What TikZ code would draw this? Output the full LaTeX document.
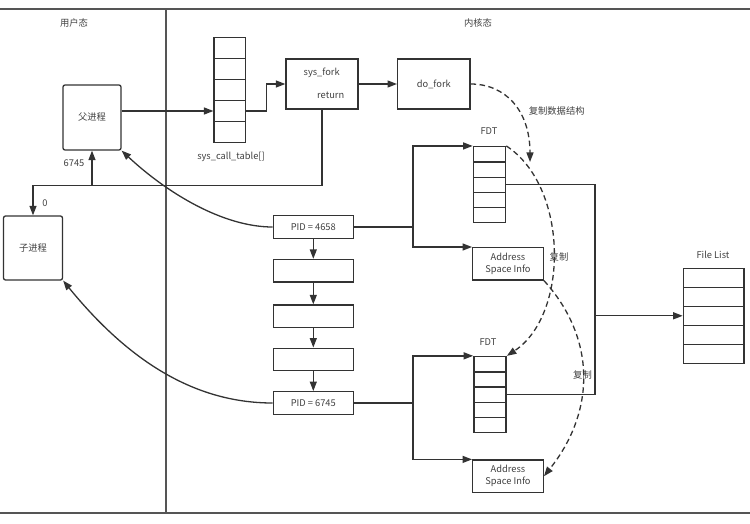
\documentclass[tikz,border=0pt]{standalone}
\usepackage{fontspec}
\setmainfont{Noto Sans CJK SC}
\usepackage{tikz}
\usepackage{xcolor}
\definecolor{figLine}{HTML}{333333}
\definecolor{figText}{HTML}{404040}
\definecolor{figFrame}{HTML}{555555}
\usetikzlibrary{matrix,arrows.meta}

\tikzset{
  panelline/.style={draw=figFrame, line width=1.6pt},
  wire/.style={draw=figLine, line width=1.3pt},
  link/.style={wire, ->},
  copyarc/.style={wire, ->, dash pattern=on 5.5pt off 3.5pt},
  lbl/.style={text=figText, inner sep=0pt},
  box/.style={draw=figLine, line width=1.3pt, inner sep=0pt, text=figText, align=center},
  procbox/.style={box, rounded corners=2pt},
  pidbox/.style={box, minimum width=80pt, minimum height=22.6pt},
  tbl/.style={matrix of nodes, nodes in empty cells, inner sep=0pt, row sep=-1.3pt,
    nodes={draw=figLine, line width=1.3pt, inner sep=0pt}}
}

\begin{document}
\begin{tikzpicture}[x=1pt, y=-1pt, font=\fontsize{9.3}{12}\selectfont, >={Triangle[length=9.5pt,width=7pt]}]
  \useasboundingbox (0,0) rectangle (750,524);
  \draw[panelline] (0,9) -- (750,9);
  \draw[panelline] (0,513) -- (750,513);
  \draw[panelline] (166,9) -- (166,513);
  \node[lbl] (userlbl) at (74,23) {用户态};
  \node[lbl] (kernlbl) at (478,23) {内核态};
  \node[procbox, minimum width=58pt, minimum height=65pt] (parent) at (92,117.5) {父进程};
  \node[procbox, minimum width=59pt, minimum height=64pt] (child) at (33,248) {子进程};
  \node[lbl] (pidret) at (74,163) {6745};
  \node[lbl] (zeroret) at (45,203) {0};
  \matrix[tbl, nodes={minimum width=31.5pt, minimum height=21pt}] (sct) at (229.8,90) {{}\\{}\\{}\\{}\\{}\\};
  \node[lbl] (sctlbl) at (231,157) {sys\_call\_table[]};
  \node[box, minimum width=72pt, minimum height=50pt] (sysfork) at (322,84) {};
  \node[lbl] (forklbl) at (321.7,72.7) {sys\_fork};
  \node[lbl] (retlbl) at (330.7,95.7) {return};
  \node[box, minimum width=72.3pt, minimum height=50pt] (dofork) at (433.8,84) {do\_fork};
  \node[pidbox] (pid1) at (313.3,227) {PID = 4658};
  \node[pidbox] (blank1) at (313.3,270.8) {};
  \node[pidbox] (blank2) at (313.3,316.3) {};
  \node[pidbox] (blank3) at (313.3,359.5) {};
  \node[pidbox] (pid2) at (313.3,403) {PID = 6745};
  \matrix[tbl, nodes={minimum width=32pt, minimum height=15.2pt}] (fdt1) at (489.5,184.8) {{}\\{}\\{}\\{}\\{}\\};
  \node[lbl] (fdtlbl1) at (489,131) {FDT};
  \matrix[tbl, nodes={minimum width=32pt, minimum height=15.2pt}] (fdt2) at (490,394.7) {{}\\{}\\{}\\{}\\{}\\};
  \node[lbl] (fdtlbl2) at (488,341.7) {FDT};
  \node[box, minimum width=70.6pt, minimum height=32.3pt] (asi1) at (508,263.8) {Address\\Space Info};
  \node[box, minimum width=70.6pt, minimum height=32.3pt] (asi2) at (508,476.2) {Address\\Space Info};
  \matrix[tbl, nodes={minimum width=60.7pt, minimum height=19pt}] (flist) at (713.7,315.8) {{}\\{}\\{}\\{}\\{}\\};
  \node[lbl] (flistlbl) at (713,255) {File List};
  \coordinate (retjoin) at (322,185.5);
  \coordinate (split1) at (413,227);
  \coordinate (split2) at (413,403);
  \coordinate (bus) at (595,315.8);
  \coordinate (copyend) at (530,162);
  \draw[link] (parent.east |- sct-4-1) -- (sct-4-1.west);
  \draw[link] (sct-4-1.east) -- ++(20.3,0) |- (sysfork.west);
  \draw[link] (sysfork.east) -- (dofork.west);
  \draw[link] (sysfork.south) -- (retjoin) -| (parent.south);
  \draw[link] (retjoin) -| (child.north);
  \draw[link] (pid1.west) .. controls (223,227) and (167,193) .. (parent.south east);
  \draw[link] (pid2.west) .. controls (193,403) and (127,359) .. (child.south east);
  \draw[link] (pid1.south) -- (blank1.north);
  \draw[link] (blank1.south) -- (blank2.north);
  \draw[link] (blank2.south) -- (blank3.north);
  \draw[link] (blank3.south) -- (pid2.north);
  \draw[wire] (pid1.east) -- (split1);
  \draw[link] (split1) |- (fdt1.north west);
  \draw[link] (split1) |- (asi1.north west);
  \draw[wire] (pid2.east) -- (split2);
  \draw[link] (split2) |- (fdt2.north west);
  \draw[link] (split2) |- (asi2.north west);
  \draw[wire] (fdt1-3-1.east) -- (fdt1-3-1.east -| bus) -- (fdt2-3-1.east -| bus) -- (fdt2-3-1.east);
  \draw[link] (bus) -- (flist-3-1.west);
  \draw[copyarc] (dofork.east) .. controls (505,84) and (530,110) .. (copyend);
  \node[lbl] (copylbl1) at (556.7,111) {复制数据结构};
  \draw[copyarc] (fdt1.north east) .. controls (569,187) and (569,315) .. (fdt2.north east);
  \node[lbl] (copylbl2) at (559,257) {复制};
  \draw[copyarc] (asi1.south east) .. controls (596,338) and (596,411) .. (asi2.east);
  \node[lbl] (copylbl3) at (582.5,374.5) {复制};
\end{tikzpicture}
\end{document}
